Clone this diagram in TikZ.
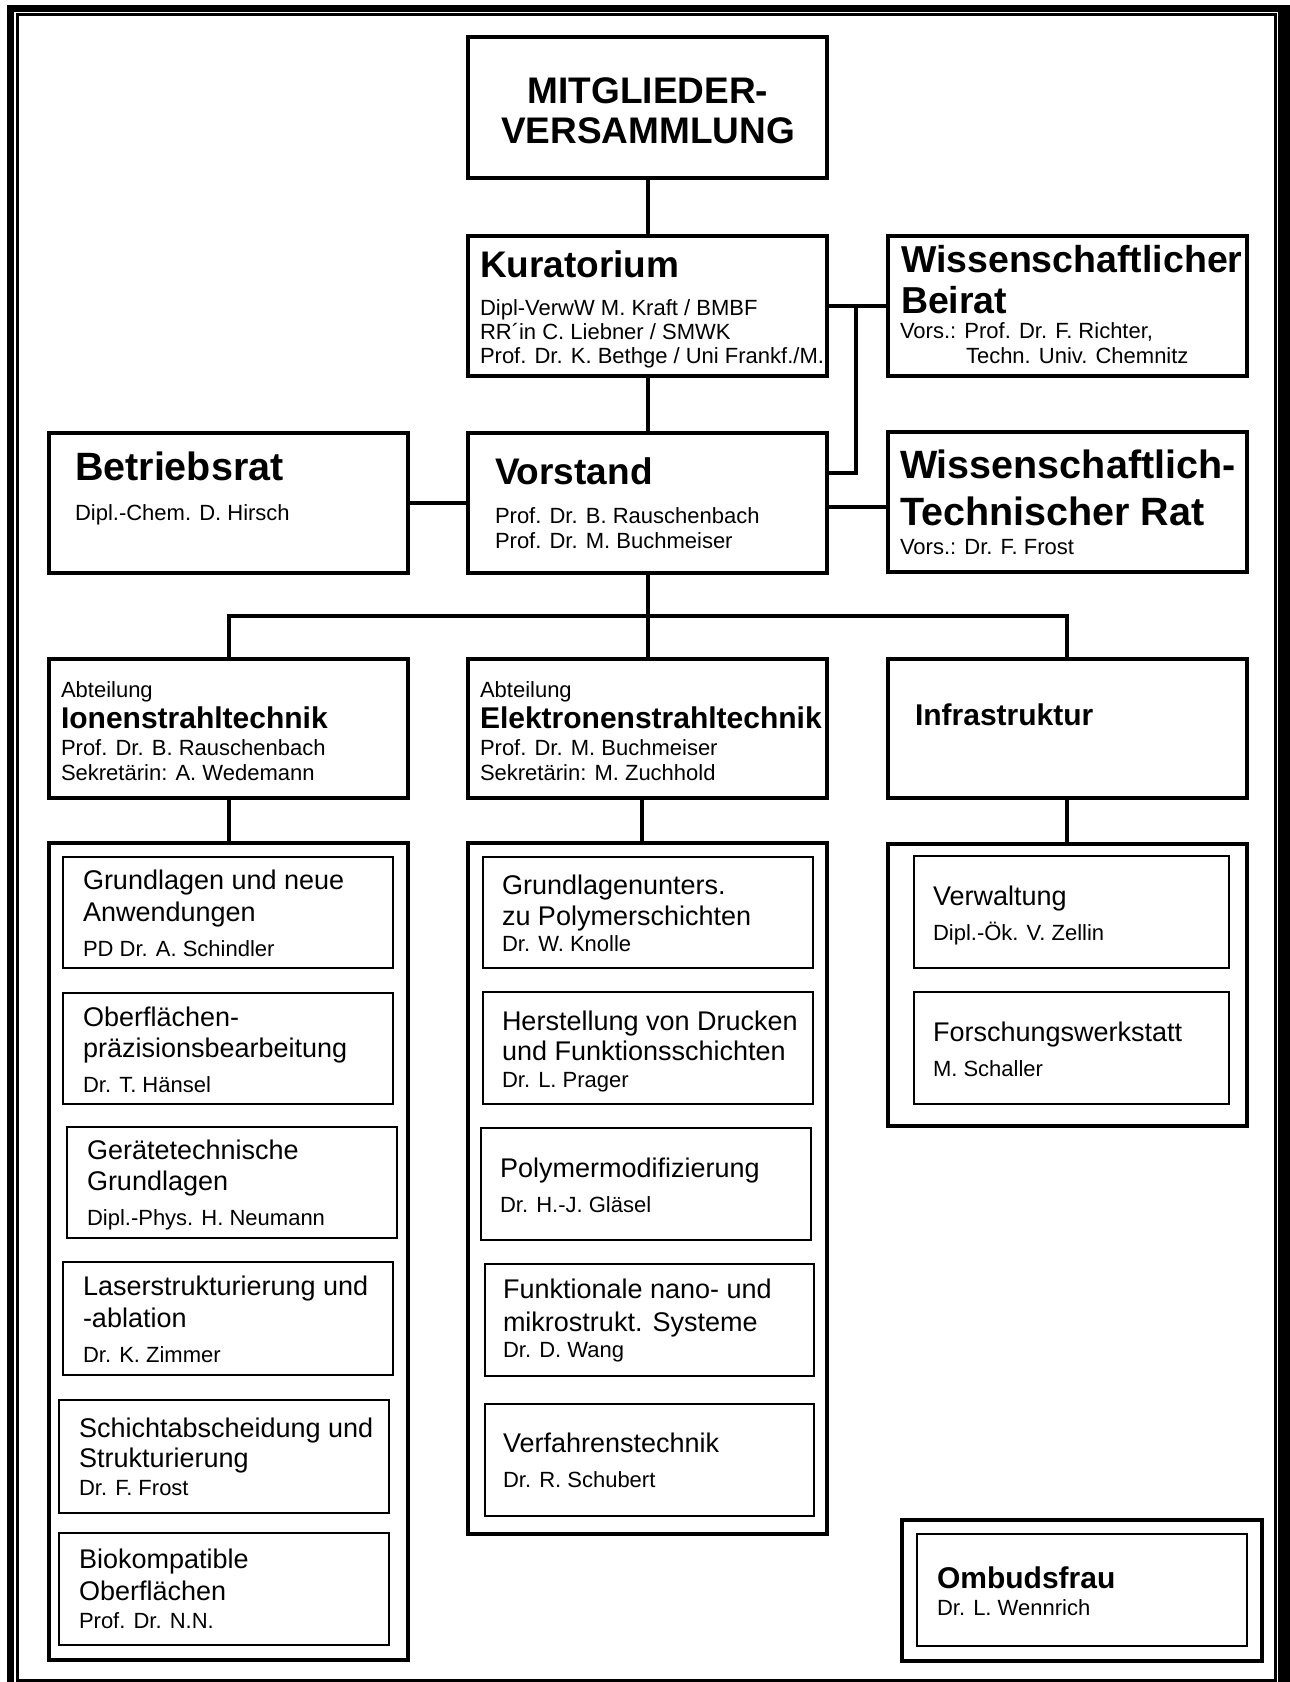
\documentclass[tikz,border=0pt]{standalone}
\usepackage{fontspec}
\setmainfont{Liberation Sans}
\newcommand{\myfs}[1]{\fontsize{#1}{#1}\selectfont}
\tikzset{
  mainbox/.style={draw, line width=4pt, inner sep=0pt, outer sep=0pt},
  subbox/.style={draw, line width=2pt, inner sep=0pt, outer sep=0pt},
  conn/.style={line width=4pt},
  tl/.style={anchor=base west, inner sep=0pt, outer sep=0pt},
  tsmall/.style={tl, font=\myfs{22}},
  tsub/.style={tl, font=\myfs{27}},
  tdept/.style={tl, font=\bfseries\myfs{30}},
}
\begin{document}
\begin{tikzpicture}[x=1pt,y=-1pt]
\useasboundingbox (0,0) rectangle (1290,1682);
\fill[white] (0,0) rectangle (1290,1682);
% frame
\fill[black] (7,5) rectangle (1290,1682);
\fill[white] (14,12) rectangle (1278,1682);
\draw[line width=3pt] (17.5,14.5) rectangle (1275.5,1680.5);

% main boxes
\node[mainbox, minimum width=359pt, minimum height=141pt] (mv) at (647.5,107.5) {};
\node[mainbox, minimum width=359pt, minimum height=140pt] (kur) at (647.5,305.5) {};
\node[mainbox, minimum width=359.5pt, minimum height=140pt] (wb) at (1067.25,305.5) {};
\node[mainbox, minimum width=359pt, minimum height=140pt] (br) at (228.5,503) {};
\node[mainbox, minimum width=359pt, minimum height=140pt] (vs) at (647.5,503) {};
\node[mainbox, minimum width=359.5pt, minimum height=140pt] (wtr) at (1067.25,502) {};
\node[mainbox, minimum width=359pt, minimum height=139pt] (ion) at (228.5,728.5) {};
\node[mainbox, minimum width=359pt, minimum height=139pt] (ele) at (647.5,728.5) {};
\node[mainbox, minimum width=359.5pt, minimum height=139pt] (inf) at (1067.25,728.5) {};
% containers
\node[mainbox, minimum width=359pt, minimum height=817pt] (ionc) at (228.5,1251.5) {};
\node[mainbox, minimum width=359pt, minimum height=691pt] (elec) at (647.5,1188.5) {};
\node[mainbox, minimum width=359.5pt, minimum height=282pt] (infc) at (1067.25,984.5) {};
% sub boxes left
\node[subbox, minimum width=330pt, minimum height=111pt] (l1) at (228,912.5) {};
\node[subbox, minimum width=330pt, minimum height=111pt] (l2) at (228,1048.5) {};
\node[subbox, minimum width=330pt, minimum height=111pt] (l3) at (232,1182.5) {};
\node[subbox, minimum width=330pt, minimum height=113pt] (l4) at (228,1318.5) {};
\node[subbox, minimum width=330pt, minimum height=113pt] (l5) at (224,1456.5) {};
\node[subbox, minimum width=330pt, minimum height=112pt] (l6) at (224,1589) {};
% sub boxes middle
\node[subbox, minimum width=330pt, minimum height=111pt] (m1) at (648,912.5) {};
\node[subbox, minimum width=330pt, minimum height=112pt] (m2) at (648,1048) {};
\node[subbox, minimum width=330pt, minimum height=112pt] (m3) at (646,1184) {};
\node[subbox, minimum width=329.5pt, minimum height=112pt] (m4) at (649.25,1320) {};
\node[subbox, minimum width=329.5pt, minimum height=112pt] (m5) at (649.25,1460) {};
% sub boxes right
\node[subbox, minimum width=315pt, minimum height=112pt] (r1) at (1071,912) {};
\node[subbox, minimum width=315pt, minimum height=112pt] (r2) at (1071,1048) {};
% Ombudsfrau
\node[mainbox, minimum width=360pt, minimum height=140.5pt] (omo) at (1082,1590.25) {};
\node[subbox, minimum width=330pt, minimum height=112pt] (omi) at (1082,1590) {};

% connectors
\draw[conn] (mv.south) -- (kur.north);
\draw[conn] (kur.south) -- (vs.north);
\draw[conn] (kur.east) -- (wb.west);
\coordinate (j1) at (856,305.5);
\draw[conn] (j1) |- ([yshift=30pt]vs.east);
\draw[conn] (br.east) -- (vs.west);
\draw[conn] ([yshift=-4pt]vs.east) -- ([yshift=-4pt]vs.east -| wtr.west);
\draw[conn] (vs.south) -- (ele.north);
\coordinate (busL) at (228.5,616);
\draw[conn] (ion.north) -- (busL) -| (inf.north);
\draw[conn] (ion.south) -- (ionc.north);
\draw[conn] ([xshift=-5.5pt]ele.south) -- ([xshift=-5.5pt]elec.north);
\draw[conn] (inf.south) -- (infc.north);

% texts
\node[anchor=base, inner sep=0pt, font=\bfseries\myfs{37}] (mvA) at (648,103) {MITGLIEDER-};
\node[anchor=base, inner sep=0pt, font=\bfseries\myfs{37}] (mvB) at (648,143) {VERSAMMLUNG};

\node[tl, font=\bfseries\myfs{37}] (kurA) at (480,277) {Kuratorium};
\node[tsmall] (kurB) at (480,315) {Dipl-VerwW M. Kraft / BMBF};
\node[tsmall] (kurC) at (480,339) {RR´in C. Liebner / SMWK};
\node[tsmall] (kurD) at (480,363) {Prof. Dr. K. Bethge / Uni Frankf./M.};

\node[tl, font=\bfseries\myfs{37.5}, text depth=0pt] (wbA) at (901,272) {Wissenschaftlicher};
\node[tl, font=\bfseries\myfs{37.5}, text depth=0pt] (wbB) at (901,313) {Beirat};
\node[tsmall] (wbC) at (900,338) {Vors.: Prof. Dr. F. Richter,};
\node[tsmall] (wbD) at (966,363) {Techn. Univ. Chemnitz};

\node[tl, font=\bfseries\myfs{39.5}] (brA) at (75,480) {Betriebsrat};
\node[tsmall] (brB) at (75,520) {Dipl.-Chem. D. Hirsch};

\node[tl, font=\bfseries\myfs{37}] (vsA) at (495,484) {Vorstand};
\node[tsmall] (vsB) at (495,523) {Prof. Dr. B. Rauschenbach};
\node[tsmall] (vsC) at (495,548) {Prof. Dr. M. Buchmeiser};

\node[tl, font=\bfseries\myfs{39.5}, text depth=0pt] (wtrA) at (900,478) {Wissenschaftlich-};
\node[tl, font=\bfseries\myfs{39.5}, text depth=0pt] (wtrB) at (900,525) {Technischer Rat};
\node[tsmall] (wtrC) at (900,554) {Vors.: Dr. F. Frost};

\node[tsmall] (ionA) at (61,697) {Abteilung};
\node[tdept] (ionB) at (61,728) {Ionenstrahltechnik};
\node[tsmall] (ionC) at (61,755) {Prof. Dr. B. Rauschenbach};
\node[tsmall] (ionD) at (61,780) {Sekretärin: A. Wedemann};

\node[tsmall] (eleA) at (480,697) {Abteilung};
\node[tdept] (eleB) at (480,728) {Elektronenstrahltechnik};
\node[tsmall] (eleC) at (480,755) {Prof. Dr. M. Buchmeiser};
\node[tsmall] (eleD) at (480,780) {Sekretärin: M. Zuchhold};

\node[tdept] (infA) at (915,725) {Infrastruktur};

% left column texts
\node[tsub] (l1a) at (83,889) {Grundlagen und neue};
\node[tsub] (l1b) at (83,921) {Anwendungen};
\node[tsmall] (l1c) at (83,956) {PD Dr. A. Schindler};
\node[tsub] (l2a) at (83,1026) {Oberflächen-};
\node[tsub] (l2b) at (83,1057) {präzisionsbearbeitung};
\node[tsmall] (l2c) at (83,1092) {Dr. T. Hänsel};
\node[tsub] (l3a) at (87,1159) {Gerätetechnische};
\node[tsub] (l3b) at (87,1190) {Grundlagen};
\node[tsmall] (l3c) at (87,1225) {Dipl.-Phys. H. Neumann};
\node[tsub] (l4a) at (83,1295) {Laserstrukturierung und};
\node[tsub] (l4b) at (83,1327) {-ablation};
\node[tsmall] (l4c) at (83,1362) {Dr. K. Zimmer};
\node[tsub] (l5a) at (79,1437) {Schichtabscheidung und};
\node[tsub] (l5b) at (79,1467) {Strukturierung};
\node[tsmall] (l5c) at (79,1495) {Dr. F. Frost};
\node[tsub] (l6a) at (79,1568) {Biokompatible};
\node[tsub] (l6b) at (79,1600) {Oberflächen};
\node[tsmall] (l6c) at (79,1628) {Prof. Dr. N.N.};

% middle column texts
\node[tsub] (m1a) at (502,894) {Grundlagenunters.};
\node[tsub] (m1b) at (502,925) {zu Polymerschichten};
\node[tsmall] (m1c) at (502,951) {Dr. W. Knolle};
\node[tsub] (m2a) at (502,1030) {Herstellung von Drucken};
\node[tsub] (m2b) at (502,1060) {und Funktionsschichten};
\node[tsmall] (m2c) at (502,1087) {Dr. L. Prager};
\node[tsub] (m3a) at (500,1177) {Polymermodifizierung};
\node[tsmall] (m3b) at (500,1212) {Dr. H.-J. Gläsel};
\node[tsub] (m4a) at (503,1298) {Funktionale nano- und};
\node[tsub] (m4b) at (503,1331) {mikrostrukt. Systeme};
\node[tsmall] (m4c) at (503,1357) {Dr. D. Wang};
\node[tsub] (m5a) at (503,1452) {Verfahrenstechnik};
\node[tsmall] (m5b) at (503,1487) {Dr. R. Schubert};

% right column texts
\node[tsub] (r1a) at (933,905) {Verwaltung};
\node[tsmall] (r1b) at (933,940) {Dipl.-Ök. V. Zellin};
\node[tsub] (r2a) at (933,1041) {Forschungswerkstatt};
\node[tsmall] (r2b) at (933,1076) {M. Schaller};

\node[tdept] (omA) at (937,1588) {Ombudsfrau};
\node[tsmall] (omB) at (937,1615) {Dr. L. Wennrich};
\end{tikzpicture}
\end{document}
